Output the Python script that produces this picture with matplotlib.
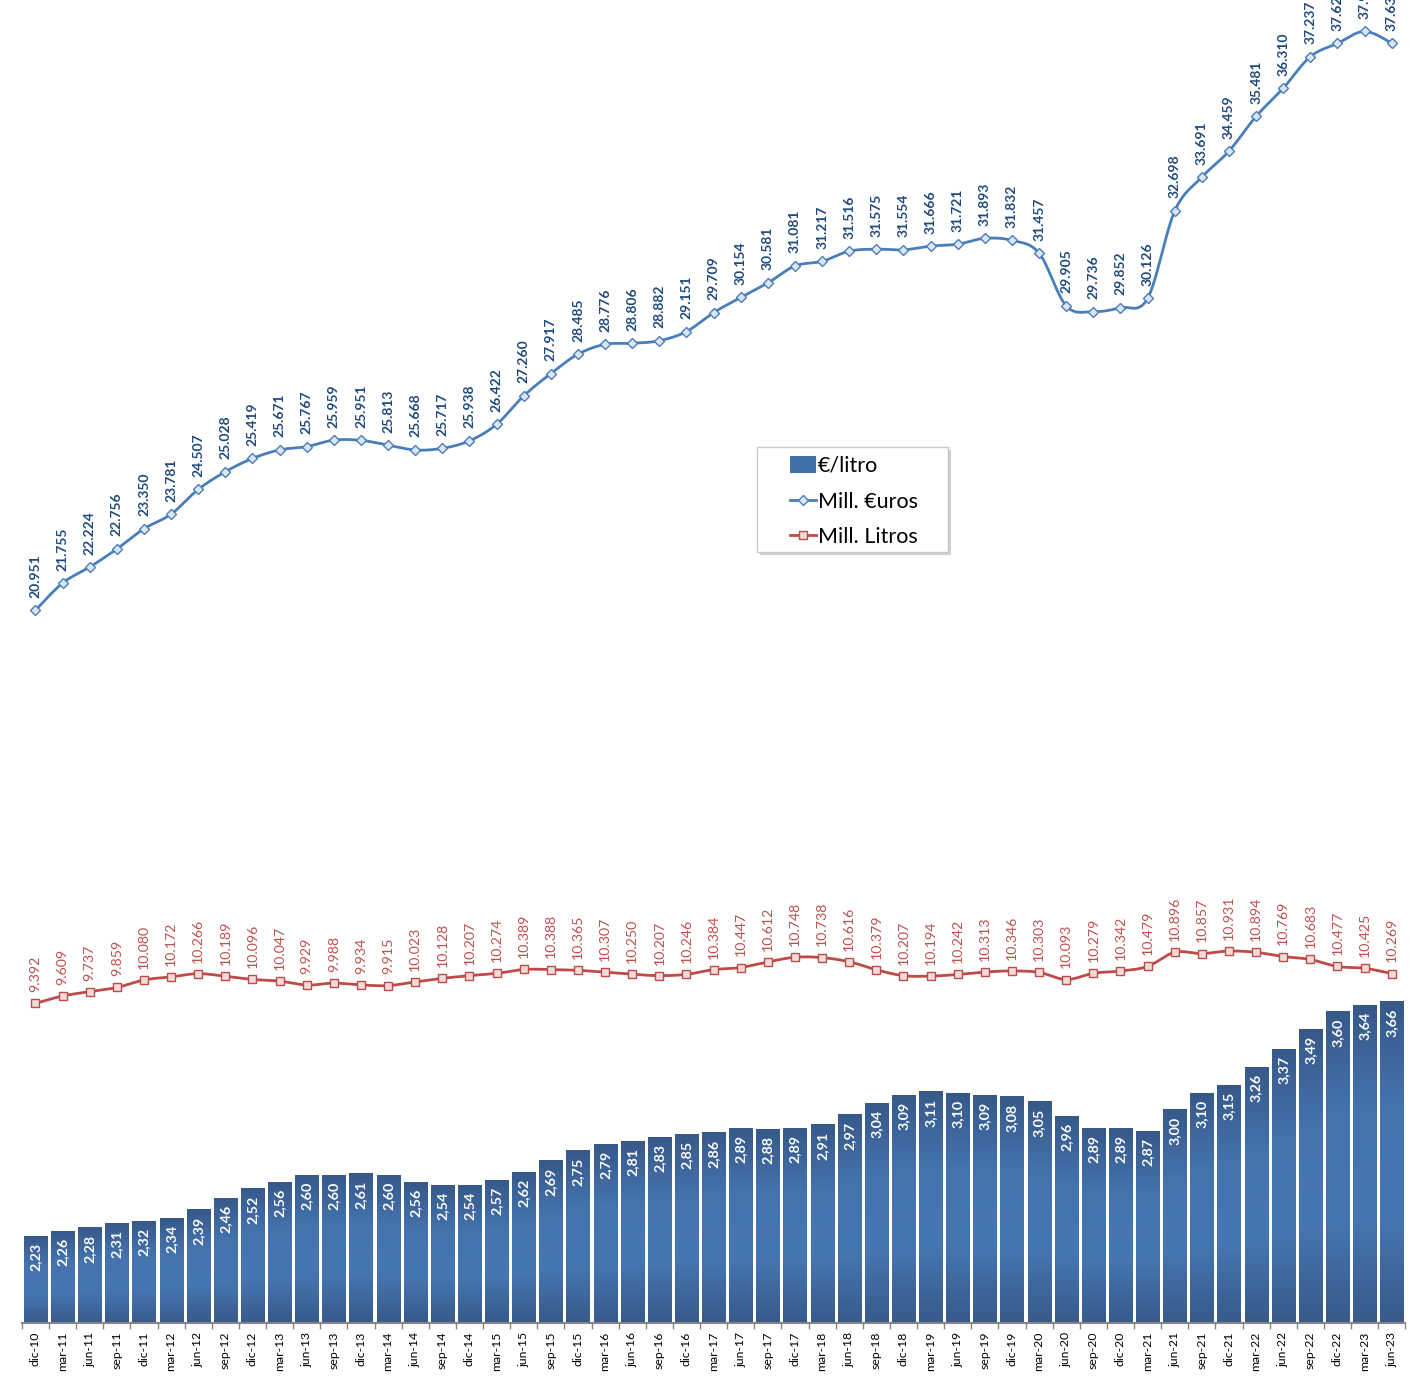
import numpy as np
import matplotlib
matplotlib.use('Agg')
import matplotlib.pyplot as plt
from matplotlib.colors import LinearSegmentedColormap
from matplotlib.patches import Patch, Rectangle
from matplotlib.lines import Line2D

plt.rcParams['font.family'] = ['Lato', 'DejaVu Sans']

periodos = ['dic-10', 'mar-11', 'jun-11', 'sep-11', 'dic-11', 'mar-12', 'jun-12', 'sep-12',
            'dic-12', 'mar-13', 'jun-13', 'sep-13', 'dic-13', 'mar-14', 'jun-14', 'sep-14',
            'dic-14', 'mar-15', 'jun-15', 'sep-15', 'dic-15', 'mar-16', 'jun-16', 'sep-16',
            'dic-16', 'mar-17', 'jun-17', 'sep-17', 'dic-17', 'mar-18', 'jun-18', 'sep-18',
            'dic-18', 'mar-19', 'jun-19', 'sep-19', 'dic-19', 'mar-20', 'jun-20', 'sep-20',
            'dic-20', 'mar-21', 'jun-21', 'sep-21', 'dic-21', 'mar-22', 'jun-22', 'sep-22',
            'dic-22', 'mar-23', 'jun-23']

# €/litro (barras)
precio_litro = [2.23, 2.26, 2.28, 2.31, 2.32, 2.34, 2.39, 2.46, 2.52, 2.56, 2.60, 2.60, 2.61,
                2.60, 2.56, 2.54, 2.54, 2.57, 2.62, 2.69, 2.75, 2.79, 2.81, 2.83, 2.85, 2.86,
                2.89, 2.88, 2.89, 2.91, 2.97, 3.04, 3.09, 3.11, 3.10, 3.09, 3.08, 3.05, 2.96,
                2.89, 2.89, 2.87, 3.00, 3.10, 3.15, 3.26, 3.37, 3.49, 3.60, 3.64, 3.66]

# Mill. euros
mill_euros = [20.951, 21.755, 22.224, 22.756, 23.350, 23.781, 24.507, 25.028, 25.419, 25.671,
              25.767, 25.959, 25.951, 25.813, 25.668, 25.717, 25.938, 26.422, 27.260, 27.917,
              28.485, 28.776, 28.806, 28.882, 29.151, 29.709, 30.154, 30.581, 31.081, 31.217,
              31.516, 31.575, 31.554, 31.666, 31.721, 31.893, 31.832, 31.457, 29.905, 29.736,
              29.852, 30.126, 32.698, 33.691, 34.459, 35.481, 36.310, 37.237, 37.627, 37.981,
              37.634]

# Mill. litros
mill_litros = [9.392, 9.609, 9.737, 9.859, 10.080, 10.172, 10.266, 10.189, 10.096, 10.047,
               9.929, 9.988, 9.934, 9.915, 10.023, 10.128, 10.207, 10.274, 10.389, 10.388,
               10.365, 10.307, 10.250, 10.207, 10.246, 10.384, 10.447, 10.612, 10.748, 10.738,
               10.616, 10.379, 10.207, 10.194, 10.242, 10.313, 10.346, 10.303, 10.093, 10.279,
               10.342, 10.479, 10.896, 10.857, 10.931, 10.894, 10.769, 10.683, 10.477, 10.425,
               10.269]


def suavizar(y, pasos=24):
    # linea suavizada como la de Excel (Catmull-Rom pasado a Bezier)
    y = np.asarray(y, float)
    x = np.arange(len(y), dtype=float)
    px = np.concatenate([[x[0]], x, [x[-1]]])
    py = np.concatenate([[y[0]], y, [y[-1]]])
    t = np.linspace(0, 1, pasos)
    xs, ys = [], []
    for i in range(len(y) - 1):
        p0x, p1x, p2x, p3x = px[i:i + 4]
        p0y, p1y, p2y, p3y = py[i:i + 4]
        c1x, c1y = p1x + (p2x - p0x) / 6, p1y + (p2y - p0y) / 6
        c2x, c2y = p2x - (p3x - p1x) / 6, p2y - (p3y - p1y) / 6
        a, b, c, d = (1 - t) ** 3, 3 * (1 - t) ** 2 * t, 3 * (1 - t) * t ** 2, t ** 3
        xs.append(a * p1x + b * c1x + c * c2x + d * p2x)
        ys.append(a * p1y + b * c1y + c * c2y + d * p2y)
    return np.concatenate(xs), np.concatenate(ys)


W, H = 1417, 1378
fig = plt.figure(figsize=(W / 100, H / 100), dpi=100)
ax = fig.add_axes([21.9 / W, 55.3 / H, 1383.4 / W, 1360 / H])
ax2 = ax.twinx()

x = np.arange(len(periodos))

# barras con degradado
azul = LinearSegmentedColormap.from_list('azul', ['#375A8A', '#4676B2', '#4473AE', '#37598A'])
grad = np.linspace(0, 1, 256).reshape(-1, 1)
ancho = 0.85
barras = ax.bar(x, precio_litro, width=ancho, color='none', edgecolor='none', zorder=2)
for b, v in zip(barras, precio_litro):
    ax.imshow(grad, extent=[b.get_x(), b.get_x() + ancho, 1.7, v], aspect='auto',
              cmap=azul, origin='lower', interpolation='bicubic', zorder=2)
    ax.annotate(f'{v:.2f}'.replace('.', ','), (b.get_x() + ancho / 2, v), xytext=(0, -5),
                textcoords='offset points', ha='center', va='top', rotation=90,
                color='white', fontweight='bold', fontsize=10.3, zorder=3)

ax.set_xlim(-0.5, len(periodos) - 0.5)
ax.set_ylim(1.7, 10)
ax2.set_ylim(0, 40)

# lineas
sx, sy = suavizar(mill_euros)
ax2.plot(sx, sy, color='#4A7EBB', lw=2.0, zorder=3)
ax2.plot(x, mill_euros, ls='none', marker='D', ms=5.5, mfc='#DCE6F2', mec='#4A7EBB',
         mew=1.0, zorder=4)
sx, sy = suavizar(mill_litros)
ax2.plot(sx, sy, color='#BE4B48', lw=2.0, zorder=3)
ax2.plot(x, mill_litros, ls='none', marker='s', ms=6.0, mfc='#F2DCDB', mec='#BE4B48',
         mew=1.0, zorder=4)

for xi, v in zip(x, mill_euros):
    ax2.annotate(f'{v:.3f}', (xi, v), xytext=(0, 9), textcoords='offset points',
                 ha='center', va='bottom', rotation=90, color='#1F497D',
                 fontweight='bold', fontsize=10)
for xi, v in zip(x, mill_litros):
    ax2.annotate(f'{v:.3f}', (xi, v), xytext=(0, 8), textcoords='offset points',
                 ha='center', va='bottom', rotation=90, color='#C0504D', fontsize=10.2)

# ejes
ax.set_xticks(x)
ax.set_xticklabels(periodos, rotation=90, fontsize=8.8)
ax.set_xticks(np.arange(-0.5, len(periodos), 1), minor=True)
ax.tick_params(axis='x', which='major', length=0, pad=6.5)
ax.tick_params(axis='x', which='minor', length=4, color='#868686', width=1)
ax.set_yticks([])
ax2.set_yticks([])
for s in ['top', 'left', 'right']:
    ax.spines[s].set_visible(False)
for s in ax2.spines.values():
    s.set_visible(False)
ax.spines['bottom'].set_color('#868686')
ax.spines['bottom'].set_linewidth(1.5)

# leyenda con caja y sombra
fig.add_artist(Rectangle((760 / W, 1 - 555 / H), 191 / W, 105 / H, transform=fig.transFigure,
                         facecolor='#D0D0D0', edgecolor='none', zorder=4))
fig.add_artist(Rectangle((757 / W, 1 - 552 / H), 191 / W, 105 / H, transform=fig.transFigure,
                         facecolor='white', edgecolor='#C8C8C8', lw=1, zorder=4))
handles = [Patch(facecolor='#4170A8', edgecolor='none'),
           Line2D([], [], color='#4A7EBB', lw=2, marker='D', ms=5.5, mfc='#DCE6F2',
                  mec='#4A7EBB'),
           Line2D([], [], color='#BE4B48', lw=2, marker='s', ms=6, mfc='#F2DCDB',
                  mec='#BE4B48')]
fig.legend(handles, ['€/litro', 'Mill. €uros', 'Mill. Litros'], loc='upper left',
           bbox_to_anchor=(790 / W, 1 - 456 / H), frameon=False, fontsize=15.5,
           handlelength=1.2, handleheight=0.8, handletextpad=0.1, labelspacing=0.72,
           borderpad=0, borderaxespad=0).set_zorder(5)

fig.savefig('out.png', dpi=100)
